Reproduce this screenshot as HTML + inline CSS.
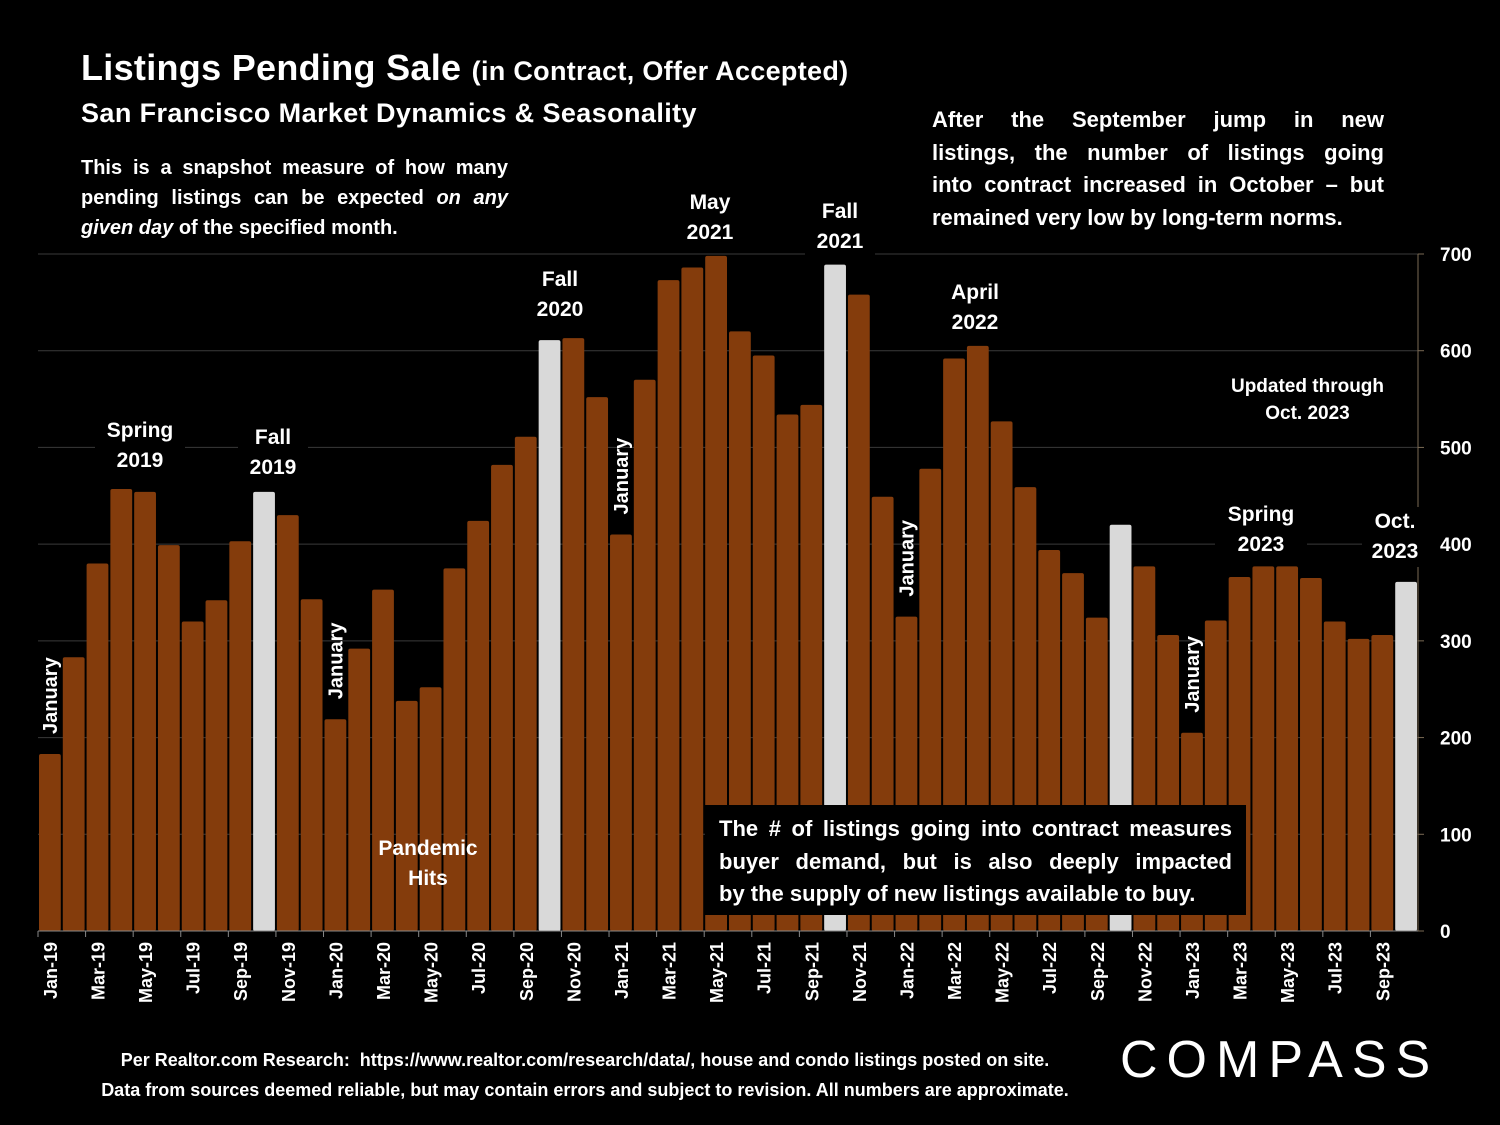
<!DOCTYPE html>
<html><head><meta charset="utf-8"><style>
body{margin:0;background:#000;}
#c{position:relative;width:1500px;height:1125px;background:#000;overflow:hidden;font-family:"Liberation Sans",sans-serif;color:#fff;font-weight:bold;}
.t{position:absolute;white-space:nowrap;}
.lab{position:absolute;text-align:center;font-size:21px;line-height:30px;background:#000;}
.j{display:block;text-align:justify;text-align-last:justify;}
</style></head><body>
<div id="c">
<div class="t" style="left:81px;top:47px;font-size:36px;letter-spacing:0.3px">Listings Pending Sale <span style="font-size:27px">(in Contract, Offer Accepted)</span></div>
<div class="t" style="left:81px;top:98px;font-size:27px;letter-spacing:0.4px">San Francisco Market Dynamics &amp; Seasonality</div>
<div class="t" style="left:81px;top:153px;width:427px;font-size:20px;line-height:30px;white-space:normal"><span class="j">This is a snapshot measure of how many</span><span class="j">pending listings can be expected <i>on any</i></span><span><i>given day</i> of the specified month.</span></div>
<div class="t" style="left:932px;top:104px;width:452px;font-size:22px;line-height:32.5px;white-space:normal;"><span class="j">After the September jump in new</span><span class="j">listings, the number of listings going</span><span class="j">into contract increased in October – but</span><span>remained very low by long-term norms.</span></div>
<svg id="svg" width="1500" height="1125" style="position:absolute;left:0;top:0"></svg>
<div class="lab" style="left:95px;top:416px;width:90px">Spring<br>2019</div>
<div class="lab" style="left:238px;top:423px;width:70px">Fall<br>2019</div>
<div class="lab" style="left:525px;top:265px;width:70px">Fall<br>2020</div>
<div class="lab" style="left:670px;top:188px;width:80px">May<br>2021</div>
<div class="lab" style="left:805px;top:197px;width:70px">Fall<br>2021</div>
<div class="lab" style="left:940px;top:278px;width:70px">April<br>2022</div>
<div class="lab" style="left:1215px;top:500px;width:92px">Spring<br>2023</div>
<div class="lab" style="left:1362px;top:507px;width:66px">Oct.<br>2023</div>
<div class="lab" style="left:1215px;top:373px;width:185px;font-size:19px;line-height:27px">Updated through<br>Oct. 2023</div>
<div class="lab" style="left:372px;top:834px;width:112px;background:none">Pandemic<br>Hits</div>
<div class="lab" style="left:705px;top:805px;width:541px;height:110px;padding:8px 14px;box-sizing:border-box;text-align:left;font-size:22px;line-height:32.5px"><span class="j">The # of listings going into contract measures</span><span class="j">buyer demand, but is also deeply impacted</span><span>by the supply of new listings available to buy.</span></div>
<div class="t" style="left:0;width:1170px;top:1045px;text-align:center;font-size:18px;line-height:30px">Per Realtor.com Research:&nbsp; https://www.realtor.com/research/data/, house and condo listings posted on site.<br>Data from sources deemed reliable, but may contain errors and subject to revision. All numbers are approximate.</div>
<div class="t" style="left:1120px;top:1030px;font-size:52px;font-weight:normal;letter-spacing:9px">COMPASS</div>
</div>
<script>
const months=["Jan","Feb","Mar","Apr","May","Jun","Jul","Aug","Sep","Oct","Nov","Dec"];
const categories=[];for(let y=19;y<=23;y++)for(let m=0;m<12;m++){if(y===23&&m>9)break;categories.push(months[m]+"-"+y);}
const values=[183,283,380,457,454,399,320,342,403,454,430,343,219,292,353,238,252,375,424,482,511,611,613,552,410,570,673,686,698,620,595,534,544,689,658,449,325,478,592,605,527,459,394,370,324,420,377,306,205,321,366,377,377,365,320,302,306,361];
const highlights=["Oct-19","Oct-20","Oct-21","Oct-22","Oct-23"];
const yTicks=[0,100,200,300,400,500,600,700];
const ns="http://www.w3.org/2000/svg",svg=document.getElementById("svg");
const X0=38,X1=1418,Y0=931,Y1=254,step=(X1-X0)/categories.length;
const y=v=>Y0-(v/700)*(Y0-Y1),x=i=>X0+i*step;
function mk(t,a){const e=document.createElementNS(ns,t);for(const k in a)e.setAttribute(k,a[k]);svg.appendChild(e);return e;}
yTicks.forEach(v=>{
 if(v>0){const g=mk("line",{x1:X0,x2:X1,y1:y(v),y2:y(v),stroke:"#3a3a3a","stroke-width":1});
 
 }
 const tk=mk("line",{x1:X1,x2:X1+6,y1:y(v),y2:y(v),stroke:"#7a6a55"});
 
 
 const t=mk("text",{x:1440,y:y(v)+7,fill:"#fff","font-size":19,"font-weight":"bold","font-family":"Liberation Sans"});t.textContent=v;
 
 
});
const ax=mk("line",{x1:X1,x2:X1,y1:Y1,y2:Y0,stroke:"#7a6a55"});


values.forEach((v,i)=>{
 const r=mk("rect",{x:x(i)+1,y:y(v),width:step-2,height:Y0-y(v),fill:highlights.includes(categories[i])?"#d9d9d9":"#843c0c",rx:2});
 
 
 if(i%2===0){
  const tk=mk("line",{x1:x(i),x2:x(i),y1:Y0,y2:Y0+6,stroke:"#888"});
  
  
  const cx=x(i)+step/2+7;
  const t=mk("text",{x:0,y:0,fill:"#fff","font-size":18,"font-weight":"bold","font-family":"Liberation Sans","text-anchor":"end",transform:`translate(${cx},942) rotate(-90)`});
  t.textContent=categories[i];
  
  
 }
 if(categories[i].startsWith("Jan")){
  const t=mk("text",{x:0,y:0,fill:"#fff","font-size":20,"font-weight":"bold","font-family":"Liberation Sans","text-anchor":"start",transform:`translate(${x(i)+step/2+7},${y(v)-20}) rotate(-90)`});
  t.textContent="January";
  
  
 }
});
const bx=mk("line",{x1:X0,x2:X1,y1:Y0,y2:Y0,stroke:"#888"});


</script>
</body></html>
